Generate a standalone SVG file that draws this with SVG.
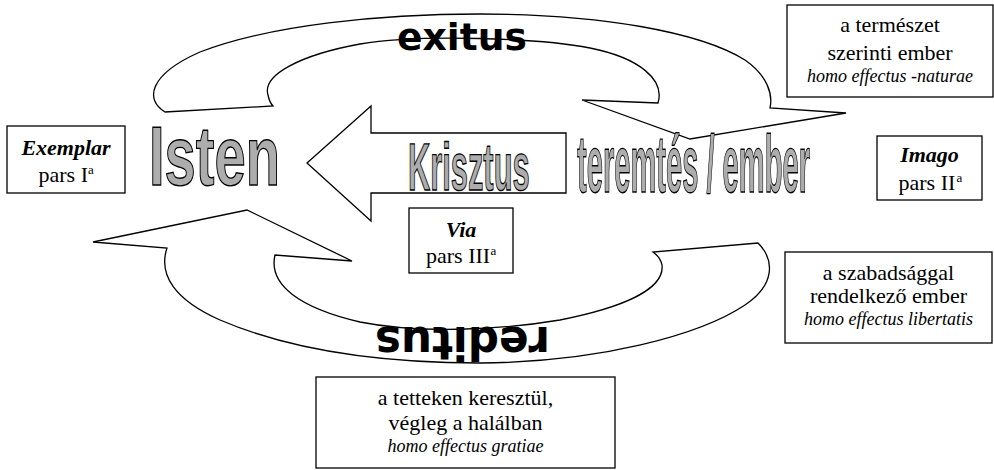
<svg xmlns="http://www.w3.org/2000/svg" width="994" height="470" viewBox="0 0 994 470">
<style>
.bg{fill:#fff}
.shape{fill:#fff;stroke:#000;stroke-width:1.3;stroke-linejoin:miter}
.box{fill:#fff;stroke:#000;stroke-width:1.3}
.big{font-family:"Liberation Sans",Arial,sans-serif;font-weight:bold;fill:#adadad;stroke:#000;stroke-width:1.4;text-rendering:geometricPrecision}
.flow{font-family:"DejaVu Sans","Liberation Sans",sans-serif;font-weight:bold;fill:#000}
.t{font-family:"Liberation Serif","Times New Roman",serif;font-size:22px;fill:#000;text-anchor:middle}
.s{font-family:"Liberation Serif","Times New Roman",serif;font-size:22px;fill:#000}
.bi{font-weight:bold;font-style:italic}
.it{font-style:italic;font-size:18px}
.sup{font-family:"Liberation Serif","Times New Roman",serif;font-size:13px;fill:#000}
</style>
<rect class="bg" x="0" y="0" width="994" height="470"/>
<g id="connectors">
  <path id="exitus-arrow" class="shape" d="M165,112 C145,100 148,75 200,52 C270,25 380,14 480,14 C600,14 700,32 745,60 C768,76 773,95 770,108 L846,113 L690,139 L582,100 L658,103 C665,80 640,58 590,48 C540,38 420,34 360,44 C300,55 262,75 268,95 C269,100 271,104 273,106 Z"/>
  <text class="flow" x="397" y="50" font-size="38" textLength="130" lengthAdjust="spacingAndGlyphs">exitus</text>
  <path id="reditus-arrow" class="shape" d="M93,242 L247,210 L352,261 L275,255 C268,285 300,308 360,322 C420,334 500,330 560,320 C620,308 665,290 662,265 C661,259 657,255 653,252 L758,243 C775,260 775,285 745,305 C700,335 600,362 480,363 C380,363 290,350 220,320 C175,300 158,275 167,248 Z"/>
  <text class="flow" x="462.5" y="353" font-size="47" text-anchor="middle" textLength="175" lengthAdjust="spacingAndGlyphs" transform="rotate(180 462.5 340)">reditus</text>
  <path id="krisztus-arrow" class="shape" d="M566,133 L371,133 L371,106 L307,163 L371,221 L371,193 L566,193 Z"/>
</g>
<g id="isten">
  <text class="big" x="149" y="185" font-size="84" textLength="131" lengthAdjust="spacingAndGlyphs">Isten</text>
</g>
<g id="krisztus">
  <text class="big" transform="translate(408 190) scale(0.46 1)" x="0" y="0" font-size="67" stroke-width="2">Krisztus</text>
</g>
<g id="teremtes-ember">
  <text class="big" x="577" y="192" font-size="81" textLength="233" lengthAdjust="spacingAndGlyphs">teremtés / ember</text>
</g>
<g id="exemplar">
  <rect class="box" x="7" y="126" width="118" height="67"/>
  <text class="t bi" x="66" y="155">Exemplar</text>
  <text class="s" x="38.5" y="182">pars I</text>
  <text class="sup" x="88" y="174">a</text>
</g>
<g id="via">
  <rect class="box" x="409" y="208" width="104" height="65"/>
  <text class="t bi" x="461" y="237">Via</text>
  <text class="s" x="426" y="263">pars III</text>
  <text class="sup" x="490.5" y="255">a</text>
</g>
<g id="imago">
  <rect class="box" x="877" y="136" width="105" height="64"/>
  <text class="t bi" x="929.5" y="162">Imago</text>
  <text class="s" x="898.5" y="190">pars II</text>
  <text class="sup" x="956.5" y="182">a</text>
</g>
<g id="naturae">
  <rect class="box" x="787" y="5" width="206" height="92"/>
  <text class="t" x="890" y="32">a természet</text>
  <text class="t" x="890" y="60">szerinti ember</text>
  <text class="t it" x="890" y="82">homo effectus -naturae</text>
</g>
<g id="libertatis">
  <rect class="box" x="785" y="252" width="207" height="91"/>
  <text class="t" x="888.5" y="280">a szabadsággal</text>
  <text class="t" x="888.5" y="303">rendelkező ember</text>
  <text class="t it" x="888.5" y="325">homo effectus libertatis</text>
</g>
<g id="gratiae">
  <rect class="box" x="316" y="377" width="299" height="91"/>
  <text class="t" x="465.5" y="405">a tetteken keresztül,</text>
  <text class="t" x="465.5" y="430">végleg a halálban</text>
  <text class="t it" x="465.5" y="452">homo effectus gratiae</text>
</g>
</svg>
